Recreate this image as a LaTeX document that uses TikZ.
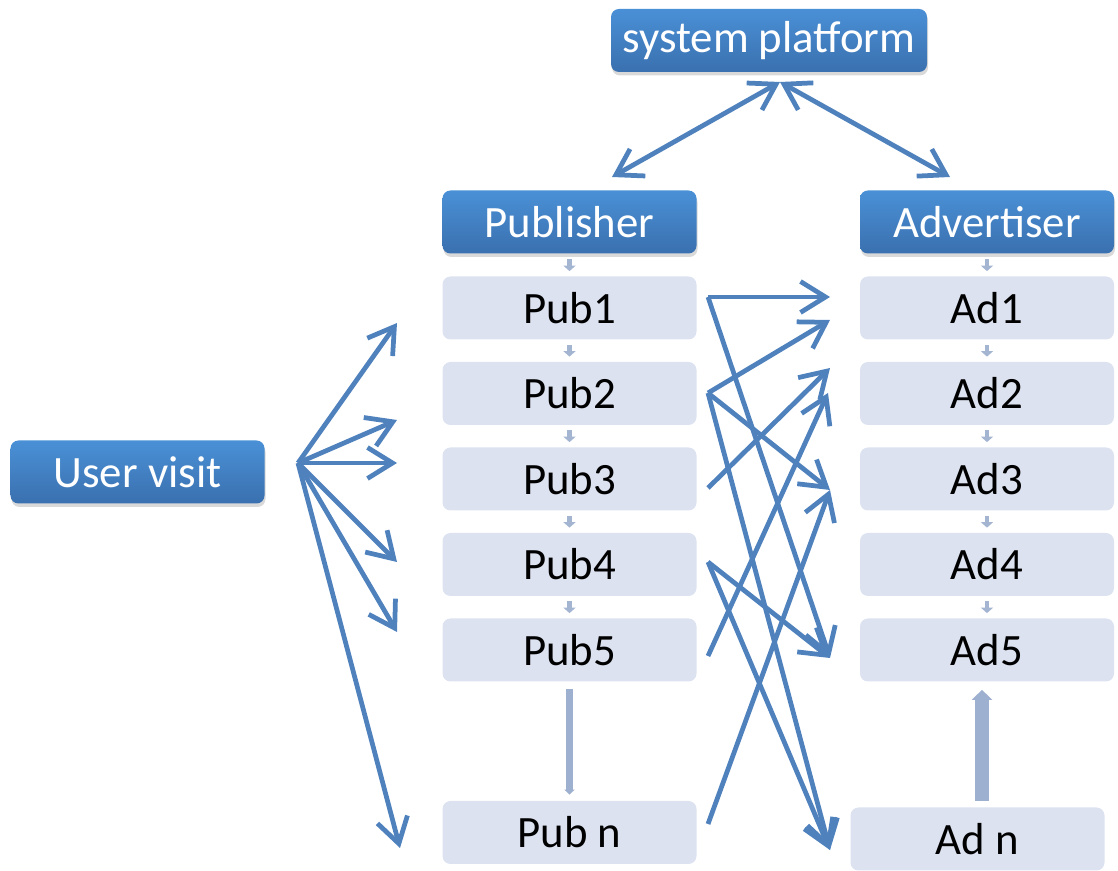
\documentclass[tikz,border=0pt]{standalone}
\usepackage{fontspec}
\setmainfont{Carlito}
\usetikzlibrary{arrows.meta,shadows}
\definecolor{headtop}{RGB}{74,144,214}
\definecolor{headbot}{RGB}{58,112,175}
\definecolor{itemfill}{RGB}{220,226,240}
\definecolor{linkblue}{RGB}{79,129,189}
\definecolor{flowcol}{RGB}{164,181,210}
\definecolor{bigflow}{RGB}{158,176,208}
\begin{document}
\begin{tikzpicture}[
		head/.style={rectangle, rounded corners=0.16cm, top color=headtop, bottom color=headbot, text=white, minimum width=5.08cm, minimum height=1.26cm, drop shadow={opacity=0.3, shadow xshift=0.02cm, shadow yshift=-0.07cm}, font=\fontsize{25.5}{30}\selectfont},
		item/.style={rectangle, rounded corners=0.16cm, fill=itemfill, minimum width=5.08cm, minimum height=1.26cm, font=\fontsize{25.5}{30}\selectfont},
		link/.style={draw=linkblue, line width=0.095cm, -{Straight Barb[length=0.5cm, width=0.62cm]}},
		twoway/.style={draw=linkblue, line width=0.095cm, {Straight Barb[length=0.5cm, width=0.62cm]}-{Straight Barb[length=0.5cm, width=0.62cm]}},
		flow/.style={draw=flowcol, line width=0.09cm, -{Triangle[length=0.11cm, width=0.24cm]}, shorten <=0.1cm, shorten >=0.1cm},
		bigdown/.style={draw=bigflow, line width=0.14cm, -{Triangle[length=0.1cm, width=0.2cm]}, shorten <=0.14cm, shorten >=0.12cm},
		bigup/.style={draw=bigflow, line width=0.28cm, -{Triangle[length=0.2cm, width=0.4cm]}, shorten <=0.12cm, shorten >=0.16cm}
		]
		
		\useasboundingbox (0,0) rectangle (22.36,-17.42);
		
		\node[head, minimum width=6.32cm] (plat) at (15.38,-0.81) {system platform};
		\node[head] (pub) at (11.39,-4.44) {Publisher};
		\node[head] (adv) at (19.74,-4.44) {Advertiser};
		\node[head] (user) at (2.75,-9.44) {User visit};
		
		\node[item] (pub1) at (11.39,-6.16) {Pub1};
		\node[item] (pub2) at (11.39,-7.87) {Pub2};
		\node[item] (pub3) at (11.39,-9.58) {Pub3};
		\node[item] (pub4) at (11.39,-11.29) {Pub4};
		\node[item] (pub5) at (11.39,-13.00) {Pub5};
		\node[item] (pubn) at (11.39,-16.65) {Pub n};
		
		\node[item] (ad1) at (19.74,-6.16) {Ad1};
		\node[item] (ad2) at (19.74,-7.87) {Ad2};
		\node[item] (ad3) at (19.74,-9.58) {Ad3};
		\node[item] (ad4) at (19.74,-11.29) {Ad4};
		\node[item] (ad5) at (19.74,-13.00) {Ad5};
		\node[item] (adn) at (19.55,-16.78) {Ad n};
		
		% column arrows
		\draw[flow] (pub) -- (pub1);
		\draw[flow] (pub1) -- (pub2);
		\draw[flow] (pub2) -- (pub3);
		\draw[flow] (pub3) -- (pub4);
		\draw[flow] (pub4) -- (pub5);
		\draw[bigdown] (pub5) -- (pubn);
		\draw[flow] (adv) -- (ad1);
		\draw[flow] (ad1) -- (ad2);
		\draw[flow] (ad2) -- (ad3);
		\draw[flow] (ad3) -- (ad4);
		\draw[flow] (ad4) -- (ad5);
		\draw[bigup] ([xshift=0.09cm]adn.north) -- ([xshift=-0.1cm]ad5.south);
		
		% platform links
		\coordinate (hub) at (15.6,-1.64);
		\coordinate (pubtop) at (12.24,-3.54);
		\coordinate (advtop) at (19.0,-3.54);
		\draw[twoway] (pubtop) -- (hub);
		\draw[twoway] (advtop) -- (hub);
		
		% user visits
		\coordinate (visit) at (5.96,-9.26);
		\coordinate (v1) at (7.94,-6.46);
		\coordinate (v2) at (7.94,-8.40);
		\coordinate (v3) at (7.94,-9.26);
		\coordinate (v4) at (7.94,-11.24);
		\coordinate (v5) at (7.94,-12.64);
		\coordinate (v6) at (8.0,-16.96);
		\draw[link] (visit) -- (v1);
		\draw[link] (visit) -- (v2);
		\draw[link] (visit) -- (v3);
		\draw[link] (visit) -- (v4);
		\draw[link] (visit) -- (v5);
		\draw[link] (visit) -- (v6);
		
		% publisher to advertiser
		\coordinate (s1) at (14.16,-5.94);
		\coordinate (s2) at (14.16,-7.86);
		\coordinate (s3) at (14.16,-9.76);
		\coordinate (s4) at (14.16,-11.24);
		\coordinate (s5) at (14.16,-13.12);
		\coordinate (sn) at (14.16,-16.48);
		\coordinate (t1) at (16.6,-5.94);
		\coordinate (t1b) at (16.6,-6.4);
		\coordinate (t2) at (16.6,-7.36);
		\coordinate (t2b) at (16.56,-7.86);
		\coordinate (t3) at (16.6,-9.8);
		\coordinate (t5) at (16.6,-13.16);
		\coordinate (tn) at (16.6,-17.0);
		\draw[link] (s1) -- (t1);
		\draw[link] (s1) -- (t5);
		\draw[link] (s2) -- (t1b);
		\draw[link] (s2) -- (t3);
		\draw[link] (s2) -- (tn);
		\draw[link] (s3) -- (t2);
		\draw[link] (s4) -- (t5);
		\draw[link] (s4) -- (tn);
		\draw[link] (s5) -- (t2b);
		\draw[link] (sn) -- (t3);
		
	\end{tikzpicture}
\end{document}
